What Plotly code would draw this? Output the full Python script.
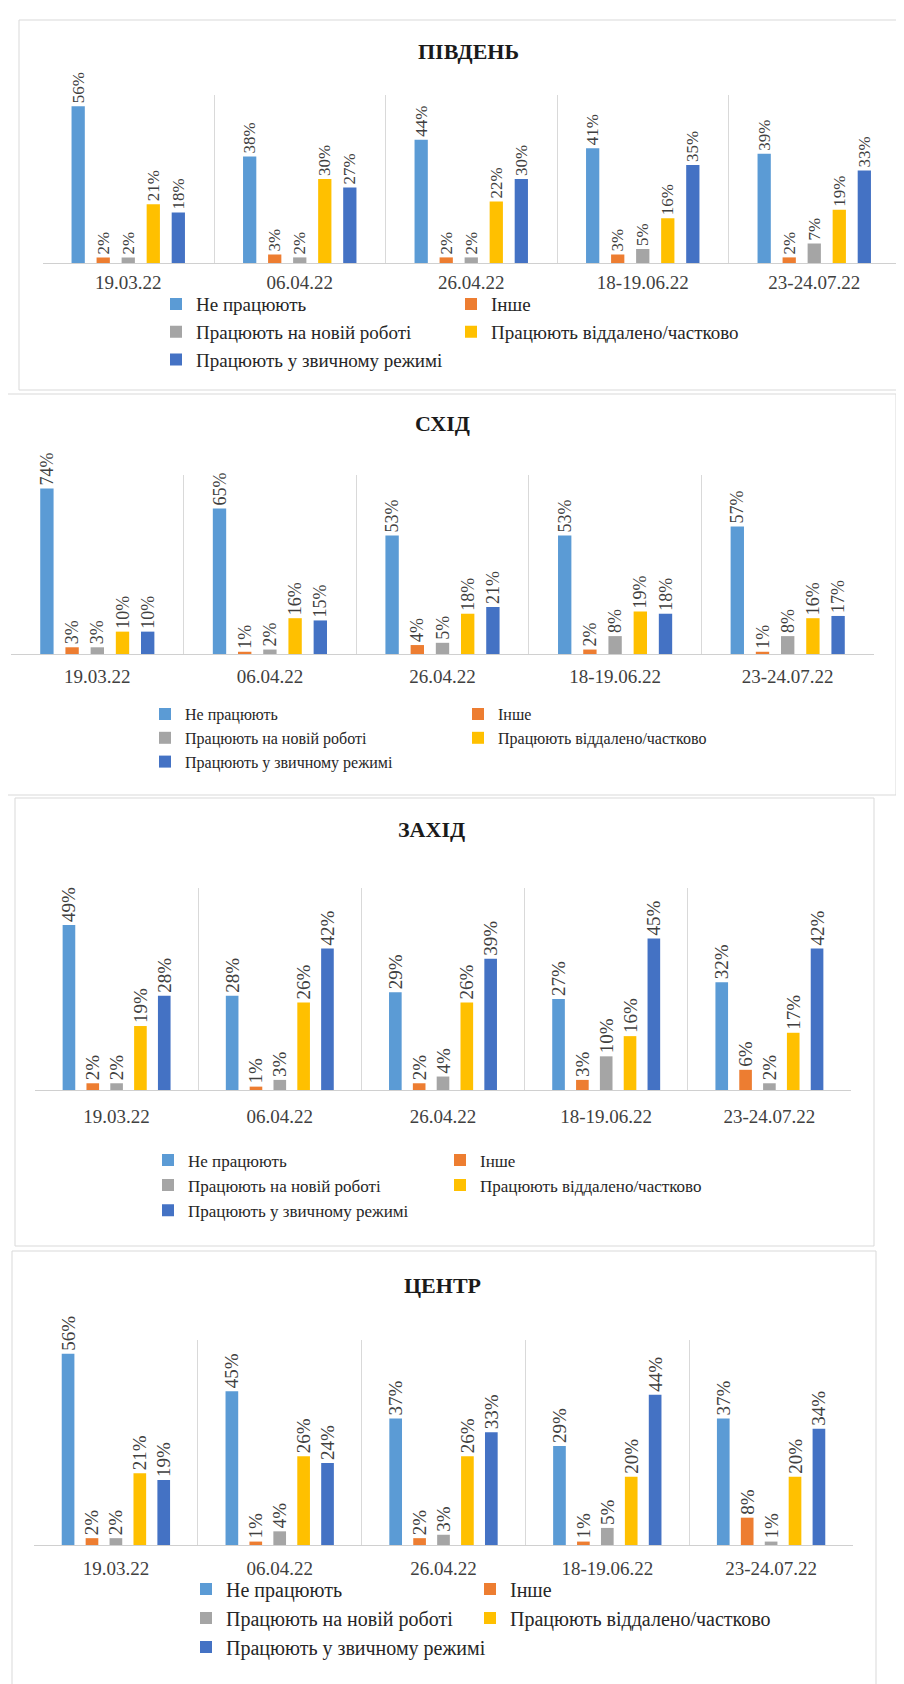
import plotly.graph_objects as go

W, H = 904, 1684

categories = ["19.03.22", "06.04.22", "26.04.22", "18-19.06.22", "23-24.07.22"]
series_names = [
    "Не працюють",
    "Інше",
    "Працюють на новій роботі",
    "Працюють віддалено/частково",
    "Працюють у звичному режимі",
]
series_colors = ["#5B9BD5", "#ED7D31", "#A5A5A5", "#FFC000", "#4472C4"]
region_titles = ["ПІВДЕНЬ", "СХІД", "ЗАХІД", "ЦЕНТР"]

# ПІВДЕНЬ
south_not_working = [56, 38, 44, 41, 39]
south_other = [2, 3, 2, 3, 2]
south_new_job = [2, 2, 2, 5, 7]
south_remote = [21, 30, 22, 16, 19]
south_usual = [18, 27, 30, 35, 33]

# СХІД
east_not_working = [74, 65, 53, 53, 57]
east_other = [3, 1, 4, 2, 1]
east_new_job = [3, 2, 5, 8, 8]
east_remote = [10, 16, 18, 19, 16]
east_usual = [10, 15, 21, 18, 17]

# ЗАХІД
west_not_working = [49, 28, 29, 27, 32]
west_other = [2, 1, 2, 3, 6]
west_new_job = [2, 3, 4, 10, 2]
west_remote = [19, 26, 26, 16, 17]
west_usual = [28, 42, 39, 45, 42]

# ЦЕНТР
center_not_working = [56, 45, 37, 29, 37]
center_other = [2, 1, 2, 1, 8]
center_new_job = [2, 4, 3, 5, 1]
center_remote = [21, 26, 26, 20, 20]
center_usual = [19, 24, 33, 44, 34]

region_data = [
    [south_not_working, south_other, south_new_job, south_remote, south_usual],
    [east_not_working, east_other, east_new_job, east_remote, east_usual],
    [west_not_working, west_other, west_new_job, west_remote, west_usual],
    [center_not_working, center_other, center_new_job, center_remote, center_usual],
]
axis_max = [60, 80, 60, 60]

# layout styling per panel (pixel geometry)
styles = [
    dict(box=(11, 12, 912, 382), plot=(34.5, 87, 892, 255), title=(460, 43),
         label=17, tick=19, standoff=2, legfont=19, leg_l=188, leg_r=483, row1=296),
    dict(box=(-4, 386, 888, 787), plot=(3, 467, 866, 646), title=(434, 415),
         label=18, tick=19, standoff=5, legfont=16, leg_l=177, leg_r=490, row1=706),
    dict(box=(7, 790, 866, 1238), plot=(27, 880, 843, 1082), title=(423, 822),
         label=19, tick=19, standoff=9, legfont=17, leg_l=180, leg_r=472, row1=1152),
    dict(box=(4, 1243, 868, 1700), plot=(26, 1332, 845, 1537), title=(434, 1277),
         label=19, tick=19, standoff=6, legfont=20, leg_l=218, leg_r=502, row1=1581),
]

FONT = "Liberation Serif"


def fx(px):
    return px / W


def fy(py):
    return 1 - py / H


fig = go.Figure()
layout = dict(
    width=W, height=H,
    margin=dict(l=0, r=0, t=0, b=0),
    paper_bgcolor="white", plot_bgcolor="white",
    barmode="group", bargap=0.27, bargroupgap=0.47,
    font=dict(family=FONT, color="#404040"),
    showlegend=True,
    annotations=[], shapes=[],
)

for i, st in enumerate(styles):
    n = i + 1
    xa = "x" if n == 1 else f"x{n}"
    ya = "y" if n == 1 else f"y{n}"
    l, t, r, b = st["plot"]
    layout["xaxis" if n == 1 else f"xaxis{n}"] = dict(
        domain=[fx(l), fx(r)], anchor=ya, type="category",
        tickson="boundaries", ticks="", showgrid=True, gridcolor="#D9D9D9", gridwidth=1,
        showline=True, linecolor="#D0D0D0", linewidth=1,
        tickfont=dict(family=FONT, size=st["tick"], color="#404040"),
        ticklabelstandoff=st["standoff"], fixedrange=True,
    )
    layout["yaxis" if n == 1 else f"yaxis{n}"] = dict(
        domain=[fy(b), fy(t)], anchor=xa, range=[0, axis_max[i]],
        visible=False, showgrid=False, zeroline=False, fixedrange=True,
    )
    # panel frame
    bx0, by0, bx1, by1 = st["box"]
    layout["shapes"].append(dict(
        type="rect", xref="paper", yref="paper",
        x0=fx(bx0), x1=fx(bx1), y0=fy(by1), y1=fy(by0),
        line=dict(color="#D9D9D9", width=1), fillcolor="rgba(0,0,0,0)", layer="below",
    ))
    # title
    layout["annotations"].append(dict(
        text=f"<b>{region_titles[i]}</b>", xref="paper", yref="paper",
        x=fx(st["title"][0]), y=fy(st["title"][1]), xanchor="center", yanchor="middle",
        showarrow=False, font=dict(family=FONT, size=22, color="#1a1a1a"),
    ))
    # legends (two columns)
    lf = st["legfont"]
    item_h = max(lf * 1.3, 16) + 3
    top = st["row1"] - 5 - item_h / 2
    left_id = 2 * i + 1
    right_id = 2 * i + 2
    for lid, xtext in ((left_id, st["leg_l"]), (right_id, st["leg_r"])):
        key = "legend" if lid == 1 else f"legend{lid}"
        layout[key] = dict(
            x=fx(xtext - 40), y=fy(top), xanchor="left", yanchor="top",
            orientation="v", bgcolor="rgba(0,0,0,0)", borderwidth=0,
            font=dict(family=FONT, size=lf, color="#262626"),
            traceorder="normal", itemclick=False, itemdoubleclick=False,
        )

    for j, vals in enumerate(region_data[i]):
        lid = left_id if j in (0, 2, 4) else right_id
        fig.add_trace(go.Bar(
            x=categories, y=vals, name=series_names[j],
            marker=dict(color=series_colors[j], line=dict(width=0)),
            xaxis=xa, yaxis=ya,
            text=[f"{v}%" for v in vals], textposition="outside", textangle=-90,
            textfont=dict(family=FONT, size=st["label"], color="#404040"),
            constraintext="none", cliponaxis=False,
            legend="legend" if lid == 1 else f"legend{lid}",
            hovertemplate="%{x}: %{y}%<extra>" + series_names[j] + "</extra>",
        ))

fig.update_layout(**layout)
fig.write_html("out.html", config={"displayModeBar": False})
